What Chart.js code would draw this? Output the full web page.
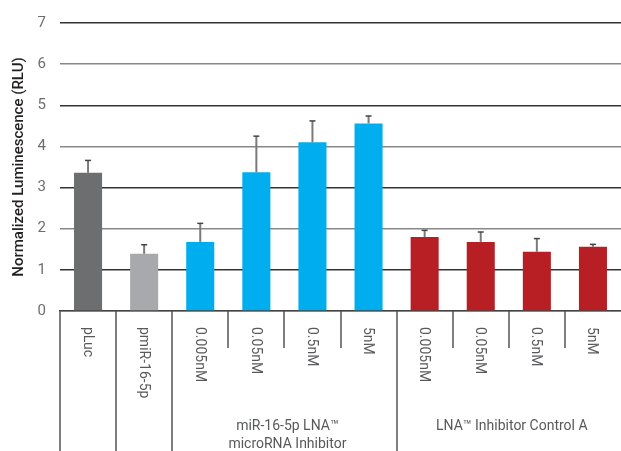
<!DOCTYPE html>
<html lang="en">
<head>
<meta charset="UTF-8" />
<title>Normalized Luminescence</title>
<script src="https://cdn.jsdelivr.net/npm/chart.js@4.4.1/dist/chart.umd.min.js"></script>
<style>
    html, body { margin: 0; padding: 0; background: #fff; }
    #wrap { width: 621px; height: 451px; }
</style>
</head>
<body>
<div id="wrap"><canvas id="barChart"></canvas></div>
<script>
    // data
    const categories = ['pLuc', 'pmiR-16-5p', '0.005nM', '0.05nM', '0.5nM', '5nM', '0.005nM', '0.05nM', '0.5nM', '5nM'];
    const values = [3.36, 1.39, 1.68, 3.37, 4.10, 4.56, 1.80, 1.68, 1.44, 1.56];
    const errors = [0.30, 0.22, 0.45, 0.88, 0.52, 0.18, 0.16, 0.24, 0.32, 0.06];
    const groupLabels = [['miR-16-5p LNA™', 'microRNA Inhibitor'], ['LNA™ Inhibitor Control A']];
    const groupStarts = [2, 6];
    const groupSize = 4;
    const yTicks = [0, 1, 2, 3, 4, 5, 6, 7];

    const barColors = ['#6d6e70', '#a7a9ac', '#00aeef', '#00aeef', '#00aeef', '#00aeef', '#b71f25', '#b71f25', '#b71f25', '#b71f25'];
    const textColor = '#58595b';
    const fontFamily = 'Roboto, "DejaVu Sans", sans-serif';

    // error bars + custom category axis (labels read top-to-bottom, group separators)
    const decorations = {
        id: 'decorations',
        afterDatasetsDraw(chart) {
            const ctx = chart.ctx;
            const y = chart.scales.y;
            const meta = chart.getDatasetMeta(0);
            ctx.save();
            meta.data.forEach((bar, i) => {
                const yTop = y.getPixelForValue(values[i] + errors[i]);
                ctx.strokeStyle = '#7a7a7a';
                ctx.lineWidth = 2;
                ctx.beginPath();
                ctx.moveTo(bar.x, bar.y);
                ctx.lineTo(bar.x, yTop);
                ctx.stroke();
                ctx.strokeStyle = '#444';
                ctx.lineWidth = 1.5;
                ctx.beginPath();
                ctx.moveTo(bar.x - 3, yTop);
                ctx.lineTo(bar.x + 3, yTop);
                ctx.stroke();
            });
            ctx.restore();
        },
        afterDraw(chart) {
            const ctx = chart.ctx;
            const x = chart.scales.x;
            const area = chart.chartArea;
            const half = (x.getPixelForValue(1) - x.getPixelForValue(0)) / 2;
            const bottom = chart.height;
            ctx.save();

            // separators
            ctx.strokeStyle = '#555';
            ctx.lineWidth = 1.5;
            for (let i = 0; i < categories.length; i++) {
                const px = Math.round(x.getPixelForValue(i) - half);
                const full = i <= 2 || groupStarts.includes(i);
                ctx.beginPath();
                ctx.moveTo(px, area.bottom);
                ctx.lineTo(px, full ? bottom : area.bottom + 37);
                ctx.stroke();
            }

            // category labels, rotated clockwise
            ctx.fillStyle = textColor;
            ctx.font = '400 14px ' + fontFamily;
            ctx.textAlign = 'left';
            ctx.textBaseline = 'middle';
            categories.forEach((label, i) => {
                ctx.save();
                ctx.translate(x.getPixelForValue(i) - 1, area.bottom + 16);
                ctx.rotate(Math.PI / 2);
                ctx.fillText(label, 0, 0);
                ctx.restore();
            });

            // group labels
            ctx.textAlign = 'center';
            groupLabels.forEach((lines, g) => {
                const first = x.getPixelForValue(groupStarts[g]) - half;
                const last = x.getPixelForValue(groupStarts[g] + groupSize - 1) + half;
                const cx = (first + last) / 2 + 3;
                lines.forEach((line, k) => {
                    ctx.fillText(line, cx, area.bottom + 115 + k * 18);
                });
            });
            ctx.restore();
        }
    };

    new Chart(document.getElementById('barChart'), {
        type: 'bar',
        data: {
            labels: categories,
            datasets: [{
                data: values,
                backgroundColor: barColors,
                barPercentage: 0.5,
                categoryPercentage: 1.0
            }]
        },
        options: {
            responsive: true,
            maintainAspectRatio: false,
            animation: false,
            layout: { padding: { top: 19, right: 0, left: 0, bottom: 0 } },
            plugins: {
                legend: { display: false },
                tooltip: { enabled: false }
            },
            scales: {
                x: {
                    grid: { display: false },
                    ticks: { display: false },
                    border: { display: true, color: '#444', width: 1.5 },
                    afterFit(scale) { scale.height = 140; }
                },
                y: {
                    min: yTicks[0],
                    max: yTicks[yTicks.length - 1],
                    afterBuildTicks(scale) { scale.ticks = yTicks.map(v => ({ value: v })); },
                    grid: {
                        drawTicks: false,
                        lineWidth: 1.5,
                        color: (c) => (c.tick && c.tick.value % 2 === 1) ? '#333' : '#888'
                    },
                    border: { display: false },
                    ticks: {
                        padding: 14,
                        color: '#6d6e70',
                        font: { family: fontFamily, size: 15, weight: '400' }
                    },
                    title: {
                        display: true,
                        text: 'Normalized Luminescence (RLU)',
                        color: '#231f20',
                        padding: { top: 10, bottom: 0 },
                        font: { family: fontFamily, size: 15, weight: '500' }
                    },
                    afterFit(scale) { scale.width = 60; }
                }
            }
        },
        plugins: [decorations]
    });
</script>
</body>
</html>
